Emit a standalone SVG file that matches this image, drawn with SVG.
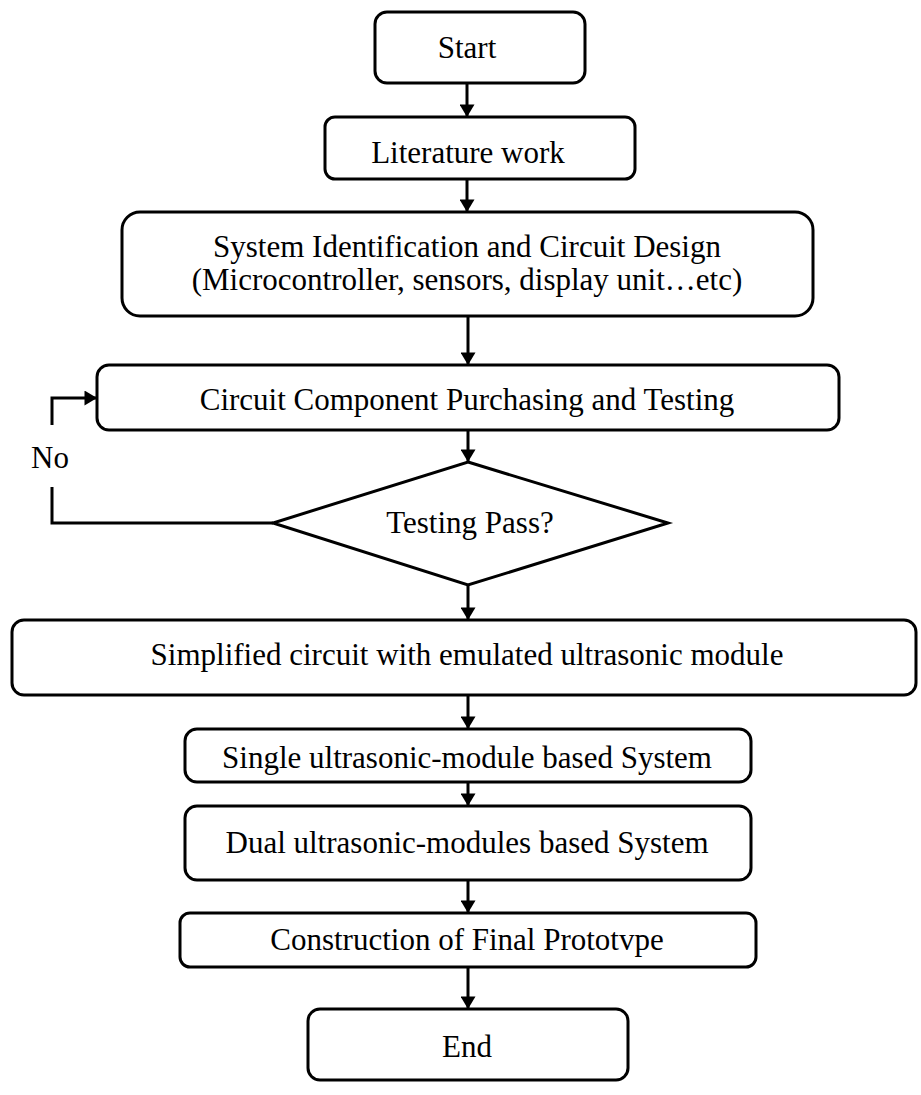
<svg xmlns="http://www.w3.org/2000/svg" width="921" height="1095" viewBox="0 0 921 1095">
<style>
.box{fill:#fff;stroke:#000;stroke-width:3}
.t{font-family:"Liberation Serif","Times New Roman",serif;font-size:31px;fill:#000;text-anchor:middle}
.c{fill:none;stroke:#000;stroke-width:3}
</style>
<defs>
<marker id="ah" viewBox="0 0 10 12" refX="10" refY="6" markerWidth="5" markerHeight="5" markerUnits="strokeWidth" orient="auto">
<path d="M0,0 L10,6 L0,12 Z" fill="#000"/>
</marker>
</defs>
<rect width="921" height="1095" fill="#fff"/>
<g id="connectors">
<line class="c" x1="467" y1="83" x2="467" y2="117" marker-end="url(#ah)"/>
<line class="c" x1="467" y1="179" x2="467" y2="212" marker-end="url(#ah)"/>
<line class="c" x1="468" y1="316" x2="468" y2="365" marker-end="url(#ah)"/>
<line class="c" x1="468" y1="430" x2="468" y2="462" marker-end="url(#ah)"/>
<polyline class="c" points="273,523 52,523 52,487"/>
<polyline class="c" points="52,425 52,398 97,398" marker-end="url(#ah)"/>
<line class="c" x1="468" y1="585" x2="468" y2="620" marker-end="url(#ah)"/>
<line class="c" x1="468" y1="695" x2="468" y2="729" marker-end="url(#ah)"/>
<line class="c" x1="468" y1="782" x2="468" y2="806" marker-end="url(#ah)"/>
<line class="c" x1="468" y1="880" x2="468" y2="913" marker-end="url(#ah)"/>
<line class="c" x1="468" y1="967" x2="468" y2="1009" marker-end="url(#ah)"/>
<text class="t" x="50" y="468">No</text>
</g>
<g id="start"><rect class="box" x="375" y="12" width="210" height="71" rx="12"/><text class="t" x="467" y="58">Start</text></g>
<g id="literature"><rect class="box" x="325" y="117" width="310" height="62" rx="10"/><text class="t" x="468" y="163">Literature work</text></g>
<g id="sysid"><rect class="box" x="122" y="212" width="691" height="104" rx="18"/><text class="t" x="467" y="257">System Identification and Circuit Design</text><text class="t" x="467" y="290">(Microcontroller, sensors, display unit…etc)</text></g>
<g id="purchase"><rect class="box" x="97" y="365" width="742" height="65" rx="12"/><text class="t" x="467" y="410">Circuit Component Purchasing and Testing</text></g>
<g id="decision"><polygon class="box" points="468,462 668,523 468,585 273,523"/><text class="t" x="470" y="533">Testing Pass?</text></g>
<g id="simplified"><rect class="box" x="12" y="620" width="904" height="75" rx="12"/><text class="t" x="467" y="665">Simplified circuit with emulated ultrasonic module</text></g>
<g id="single"><rect class="box" x="185" y="729" width="566" height="53" rx="12"/><text class="t" x="467" y="768">Single ultrasonic-module based System</text></g>
<g id="dual"><rect class="box" x="185" y="806" width="566" height="74" rx="12"/><text class="t" x="467" y="853">Dual ultrasonic-modules based System</text></g>
<g id="construction"><rect class="box" x="180" y="913" width="576" height="54" rx="10"/><text class="t" x="467" y="950">Construction of Final Prototvpe</text></g>
<g id="end"><rect class="box" x="308" y="1009" width="320" height="71" rx="12"/><text class="t" x="467" y="1057">End</text></g>
</svg>
